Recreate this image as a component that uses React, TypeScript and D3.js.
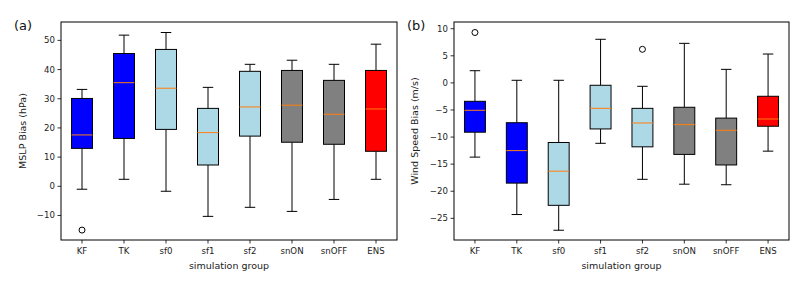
import * as d3 from "d3";

const groups = ["KF", "TK", "sf0", "sf1", "sf2", "snON", "snOFF", "ENS"];
const boxColors = ["#0000ff", "#0000ff", "#add8e6", "#add8e6", "#add8e6", "#808080", "#808080", "#ff0000"];

// (a) MSLP bias
const mslpLow = [-1.0, 2.4, -1.7, -10.3, -7.2, -8.6, -4.5, 2.4];
const mslpQ1 = [13.0, 16.4, 19.5, 7.3, 17.2, 15.1, 14.4, 12.0];
const mslpMed = [17.6, 35.5, 33.6, 18.4, 27.2, 27.8, 24.7, 26.5];
const mslpQ3 = [30.1, 45.5, 46.9, 26.7, 39.4, 39.7, 36.3, 39.7];
const mslpHigh = [33.2, 51.8, 52.7, 33.9, 41.8, 43.2, 41.8, 48.7];
const mslpOutliers = [{ g: "KF", v: -15.0 }];
const mslpTicks = [-10, 0, 10, 20, 30, 40, 50];

// (b) wind speed bias
const windLow = [-13.7, -24.3, -27.2, -11.15, -17.8, -18.7, -18.8, -12.6];
const windQ1 = [-9.1, -18.5, -22.6, -8.5, -11.8, -13.2, -15.15, -8.0];
const windMed = [-5.06, -12.5, -16.3, -4.7, -7.4, -7.7, -8.75, -6.66];
const windQ3 = [-3.4, -7.35, -11.0, -0.44, -4.7, -4.5, -6.5, -2.47];
const windHigh = [2.25, 0.48, 0.48, 8.05, -0.63, 7.3, 2.5, 5.33];
const windOutliers = [{ g: "KF", v: 9.3 }, { g: "sf2", v: 6.2 }];
const windTicks = [-25, -20, -15, -10, -5, 0, 5, 10];

const FONT = "DejaVu Sans, sans-serif";
const FS = 8.6;
const LABEL_FS = 9.5;

type PanelProps = {
  left: number; right: number; top: number; bottom: number;
  domain: [number, number]; ticks: number[];
  low: number[]; q1: number[]; med: number[]; q3: number[]; high: number[];
  outliers: { g: string; v: number }[];
  ylabel: string; ylabelX: number; tag: string; tagX: number;
};

const Panel = (p: PanelProps) => {
  const x = d3.scaleBand().domain(groups).range([p.left, p.right]).paddingInner(0).paddingOuter(0);
  const y = d3.scaleLinear().domain(p.domain).range([p.bottom, p.top]);
  const bw = x.bandwidth();
  const boxW = bw * 0.5;
  const capW = boxW * 0.5;
  const cx = (g: string) => (x(g) ?? 0) + bw / 2;
  return (
    <g>
      {groups.map((g, i) => {
        const c = cx(g);
        return (
          <g key={g}>
            <line x1={c} x2={c} y1={y(p.q3[i])} y2={y(p.high[i])} stroke="#000" strokeWidth={1} />
            <line x1={c} x2={c} y1={y(p.q1[i])} y2={y(p.low[i])} stroke="#000" strokeWidth={1} />
            <line x1={c - capW / 2} x2={c + capW / 2} y1={y(p.high[i])} y2={y(p.high[i])} stroke="#000" strokeWidth={1} />
            <line x1={c - capW / 2} x2={c + capW / 2} y1={y(p.low[i])} y2={y(p.low[i])} stroke="#000" strokeWidth={1} />
            <rect x={c - boxW / 2} width={boxW} y={y(p.q3[i])} height={y(p.q1[i]) - y(p.q3[i])}
              fill={boxColors[i]} stroke="#000" strokeWidth={1} />
            <line x1={c - boxW / 2} x2={c + boxW / 2} y1={y(p.med[i])} y2={y(p.med[i])} stroke="#ff7f0e" strokeWidth={1} />
          </g>
        );
      })}
      {p.outliers.map((o, i) => (
        <circle key={i} cx={cx(o.g)} cy={y(o.v)} r={3} fill="none" stroke="#000" strokeWidth={1} />
      ))}
      <rect x={p.left} y={p.top} width={p.right - p.left} height={p.bottom - p.top} fill="none" stroke="#000" strokeWidth={1} />
      {p.ticks.map((t) => (
        <g key={t}>
          <line x1={p.left - 3.5} x2={p.left} y1={y(t)} y2={y(t)} stroke="#000" strokeWidth={0.8} />
          <text x={p.left - 6} y={y(t)} dy="0.35em" textAnchor="end" fontSize={FS} fontFamily={FONT} fill="#222">
            {t < 0 ? "\u2212" + Math.abs(t) : t}
          </text>
        </g>
      ))}
      {groups.map((g) => (
        <g key={g}>
          <line x1={cx(g)} x2={cx(g)} y1={p.bottom} y2={p.bottom + 3.5} stroke="#000" strokeWidth={0.8} />
          <text x={cx(g)} y={p.bottom + 14} textAnchor="middle" fontSize={FS} fontFamily={FONT} fill="#222">{g}</text>
        </g>
      ))}
      <text x={(p.left + p.right) / 2} y={p.bottom + 29} textAnchor="middle" fontSize={LABEL_FS} fontFamily={FONT} fill="#222">
        simulation group
      </text>
      <text transform={`translate(${p.ylabelX},${(p.top + p.bottom) / 2}) rotate(-90)`} textAnchor="middle"
        dy="0.35em" fontSize={LABEL_FS} fontFamily={FONT} fill="#222">
        {p.ylabel}
      </text>
      <text x={p.tagX} y={30} fontSize={13} fontFamily={FONT} fill="#111">{p.tag}</text>
    </g>
  );
};

const App = () => (
  <svg width={808} height={288} style={{ position: "fixed", left: 0, top: 0, background: "#fff" }}>
    <rect width={808} height={288} fill="#fff" />
    <Panel left={61} right={397} top={22} bottom={240} domain={[-18.4, 56.3]} ticks={mslpTicks}
      low={mslpLow} q1={mslpQ1} med={mslpMed} q3={mslpQ3} high={mslpHigh} outliers={mslpOutliers}
      ylabel="MSLP Bias (hPa)" ylabelX={23} tag="(a)" tagX={14} />
    <Panel left={454} right={789} top={22} bottom={240} domain={[-29.0, 11.24]} ticks={windTicks}
      low={windLow} q1={windQ1} med={windMed} q3={windQ3} high={windHigh} outliers={windOutliers}
      ylabel="Wind Speed Bias (m/s)" ylabelX={415} tag="(b)" tagX={407} />
  </svg>
);

export default App;
